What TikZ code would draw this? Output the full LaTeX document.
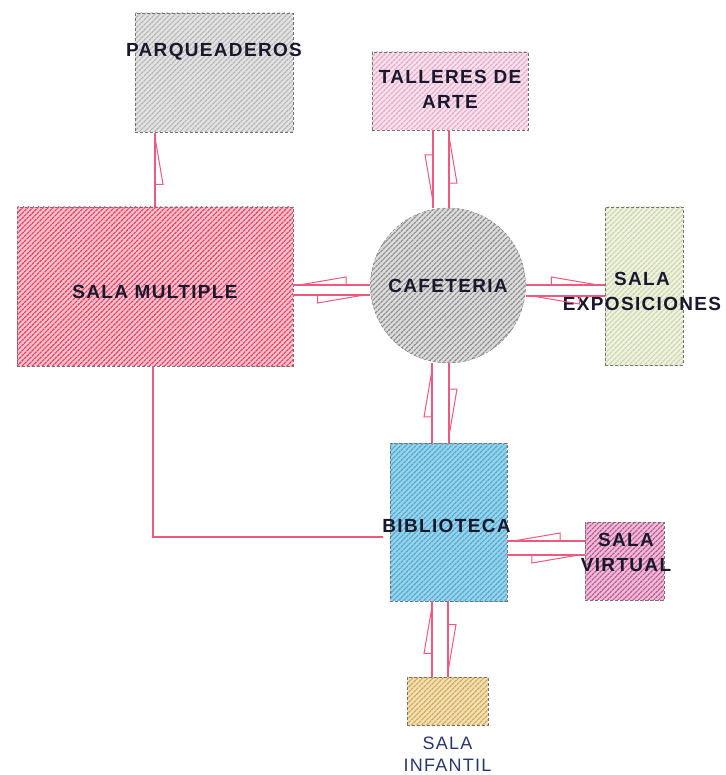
\documentclass[tikz,border=0pt]{standalone}
\usepackage{fontspec}
\setmainfont{Liberation Sans}[LetterSpace=7]
\usetikzlibrary{patterns.meta,decorations.markings,calc}
\definecolor{rojo}{RGB}{240,88,126}
\definecolor{tinta}{RGB}{25,25,45}
\definecolor{azultinta}{RGB}{40,55,110}
\definecolor{parqfondo}{RGB}{226,226,226}
\definecolor{parqlinea}{RGB}{180,180,180}
\definecolor{multifondo}{RGB}{250,192,204}
\definecolor{multilinea}{RGB}{226,62,98}
\definecolor{tallfondo}{RGB}{248,224,236}
\definecolor{talllinea}{RGB}{230,168,198}
\definecolor{cafefondo}{RGB}{220,220,220}
\definecolor{cafelinea}{RGB}{140,140,140}
\definecolor{expofondo}{RGB}{238,242,222}
\definecolor{expolinea}{RGB}{202,212,172}
\definecolor{bibfondo}{RGB}{150,212,236}
\definecolor{biblinea}{RGB}{80,165,205}
\definecolor{virtfondo}{RGB}{236,188,216}
\definecolor{virtlinea}{RGB}{192,82,142}
\definecolor{infanfondo}{RGB}{244,224,174}
\definecolor{infanlinea}{RGB}{206,166,98}
\tikzset{
  zona/.style 2 args={draw=black!55, densely dashed, line width=0.4pt, inner sep=0pt,
    preaction={fill=#1}, pattern={Lines[angle=45,distance=3.6pt,line width=1.1pt]}, pattern color=#2},
  texto/.style={font=\bfseries\fontsize{19}{25}\selectfont, text=tinta, align=center},
  infan/.style={font=\fontsize{18}{22}\selectfont, text=azultinta, align=center},
  conector/.style={rojo, solid, line width=1.1pt},
  mitad/.style={postaction={decorate, decoration={markings, mark=at position 0.62 with
    {\draw[rojo, solid, line width=1pt] (23.5pt,0pt) -- (-23.5pt,#1) -- (-23.5pt,0pt);}}}}
}
\begin{document}
\begin{tikzpicture}[x=1pt,y=-1pt]
  \useasboundingbox (0,0) rectangle (725,775);
  \node[zona={parqfondo}{parqlinea}, minimum width=158pt, minimum height=119pt,
    label={[texto,yshift=21pt]center:PARQUEADEROS}] (parq) at (214,72.5) {};
  \node[zona={multifondo}{multilinea}, minimum width=276pt, minimum height=159pt,
    label={[texto,yshift=-5pt]center:SALA MULTIPLE}] (multi) at (155,286.5) {};
  \node[zona={tallfondo}{talllinea}, minimum width=156pt, minimum height=78pt,
    label={[texto,yshift=1.5pt]center:TALLERES DE\\ARTE}] (talleres) at (450,91) {};
  \node[zona={cafefondo}{cafelinea}, circle, minimum size=155pt,
    label={[texto]center:CAFETERIA}] (cafe) at (448,285.5) {};
  \node[zona={expofondo}{expolinea}, minimum width=78pt, minimum height=158pt,
    label={[texto,xshift=-2pt,yshift=-5.5pt]center:SALA\\EXPOSICIONES}] (expo) at (644,286) {};
  \node[zona={bibfondo}{biblinea}, minimum width=117pt, minimum height=158pt,
    label={[texto,xshift=-2pt,yshift=-3.5pt]center:BIBLIOTECA}] (biblio) at (448.5,522) {};
  \node[zona={virtfondo}{virtlinea}, minimum width=79pt, minimum height=78pt,
    label={[texto,xshift=1.5pt,yshift=8.5pt]center:SALA\\VIRTUAL}] (virtual) at (624.5,561) {};
  \node[zona={infanfondo}{infanlinea}, minimum width=81pt, minimum height=48pt,
    label={[infan,yshift=-53pt]center:SALA\\INFANTIL}] (infantil) at (447.5,701) {};
  \draw[conector,mitad=-8pt] (multi.north) -- (multi.north |- parq.south);
  \draw[conector,mitad=-8pt] ($(talleres.south -| cafe.north)+(-15pt,0pt)$) -- ($(cafe.north)+(-15pt,0pt)$);
  \draw[conector,mitad=-8pt] ($(cafe.north)+(1pt,0pt)$) -- ($(talleres.south -| cafe.north)+(1pt,0pt)$);
  \draw[conector,mitad=-8pt] ($(cafe.west)+(0pt,0.5pt)$) -- ($(multi.east |- cafe.west)+(0pt,0.5pt)$);
  \draw[conector,mitad=-8pt] ($(multi.east |- cafe.west)+(0pt,-9.5pt)$) -- ($(cafe.west)+(0pt,-9.5pt)$);
  \draw[conector,mitad=8pt] ($(cafe.east)+(0pt,0.5pt)$) -- ($(expo.west |- cafe.east)+(0pt,0.5pt)$);
  \draw[conector,mitad=8pt] ($(expo.west |- cafe.east)+(0pt,-10.5pt)$) -- ($(cafe.east)+(0pt,-10.5pt)$);
  \draw[conector,mitad=8pt] ($(biblio.north -| cafe.south)+(-16pt,0pt)$) -- ($(cafe.south)+(-16pt,0pt)$);
  \draw[conector,mitad=8pt] ($(cafe.south)+(1pt,0pt)$) -- ($(biblio.north -| cafe.south)+(1pt,0pt)$);
  \draw[conector,mitad=-8pt] ($(virtual.west)+(0pt,20pt)$) -- ($(biblio.east |- virtual.west)+(0pt,20pt)$);
  \draw[conector,mitad=-8pt] ($(biblio.east |- virtual.west)+(0pt,6pt)$) -- ($(virtual.west)+(0pt,6pt)$);
  \draw[conector,mitad=8pt] ($(infantil.north)+(-15.5pt,0pt)$) -- ($(biblio.south -| infantil.north)+(-15.5pt,0pt)$);
  \draw[conector,mitad=8pt] ($(biblio.south -| infantil.north)+(0.5pt,0pt)$) -- ($(infantil.north)+(0.5pt,0pt)$);
  \draw[conector] ($(multi.south)+(-2pt,0pt)$) |- ($(biblio.west)+(-7pt,-15pt)$);
\end{tikzpicture}
\end{document}
